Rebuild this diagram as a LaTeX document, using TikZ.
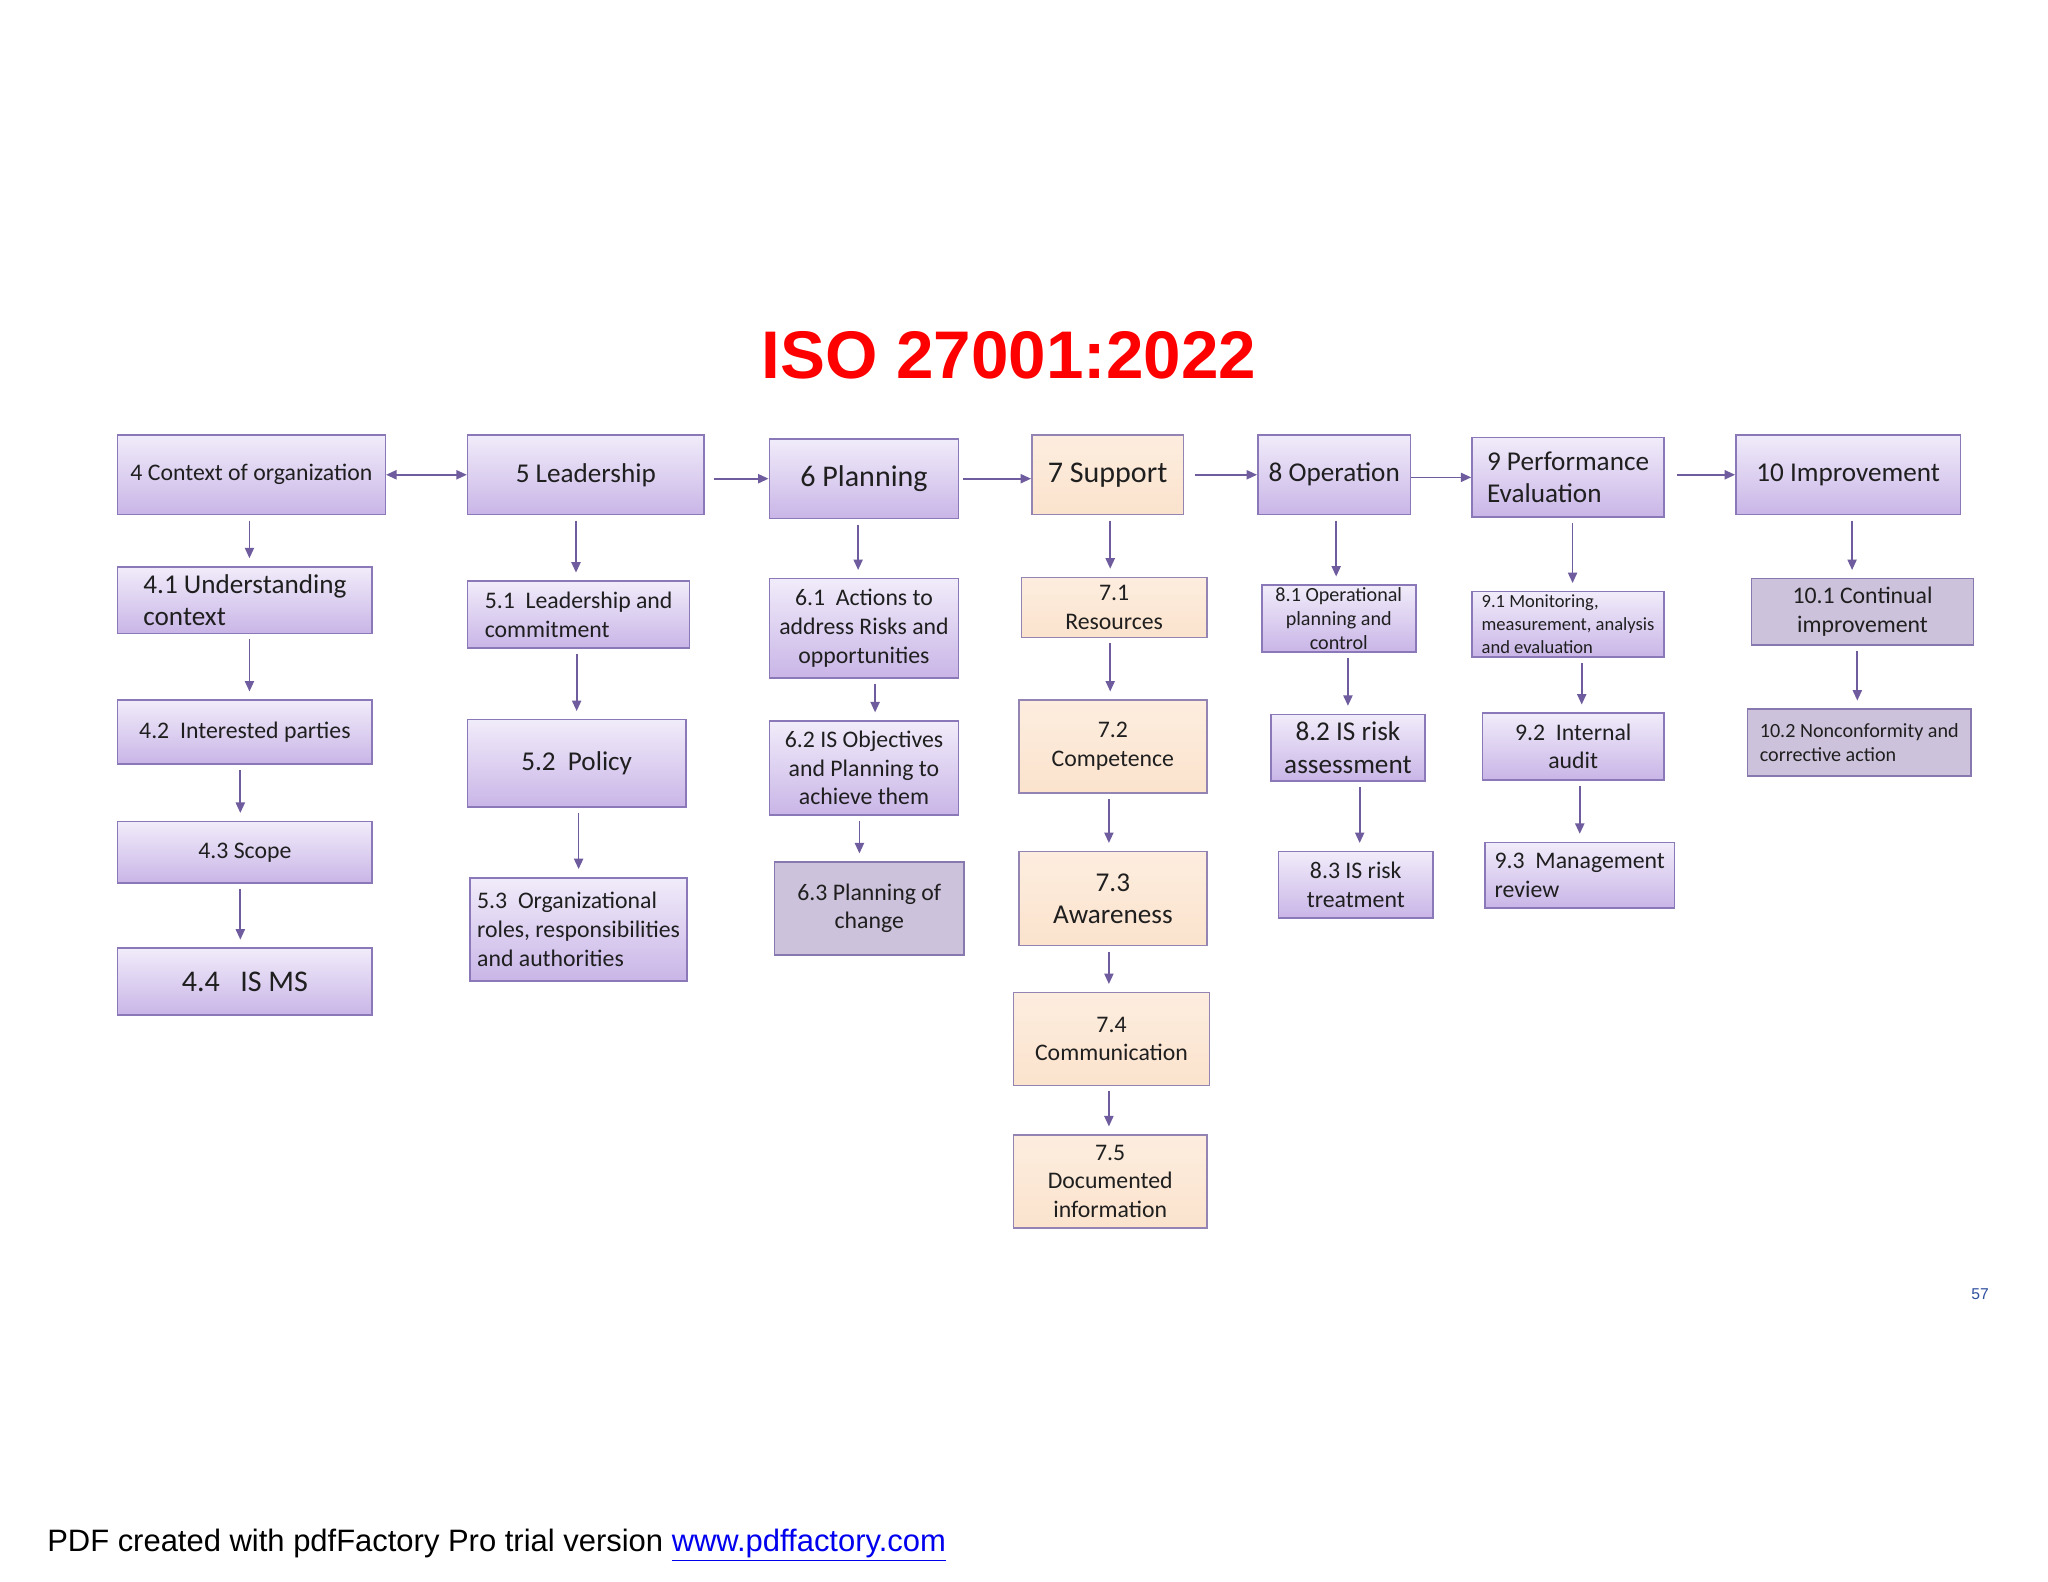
\documentclass[tikz,border=0pt]{standalone}
\usepackage{fontspec}
\setmainfont{Carlito}
\newfontfamily\arialfont{Liberation Sans}
\usetikzlibrary{arrows.meta}

\definecolor{lavtop}{HTML}{F1ECFA}
\definecolor{lavbot}{HTML}{C9B5E7}
\definecolor{lavline}{HTML}{8A78B8}
\definecolor{peachtop}{HTML}{FDEDDF}
\definecolor{peachbot}{HTML}{FBE3CD}
\definecolor{peachline}{HTML}{9484B4}
\definecolor{greyfill}{HTML}{CDC2DB}
\definecolor{greyline}{HTML}{8878B0}
\definecolor{arrowcol}{HTML}{6E5C9E}
\definecolor{titlered}{HTML}{FF0000}
\definecolor{pagenum}{HTML}{2E4E9E}
\definecolor{linkblue}{HTML}{0000EE}

\tikzstyle{lavbox} = [draw=lavline, line width=1.2pt, top color=lavtop, bottom color=lavbot, inner sep=0pt, align=center, text=black!88]
\tikzstyle{peachbox} = [draw=peachline, line width=1.2pt, top color=peachtop, bottom color=peachbot, inner sep=0pt, align=center, text=black!88]
\tikzstyle{greybox} = [draw=greyline, line width=1.2pt, fill=greyfill, inner sep=0pt, align=center, text=black!88]
\tikzstyle{fXL} = [font=\fontsize{23}{27}\selectfont]
\tikzstyle{fL} = [font=\fontsize{20.8}{25}\selectfont]
\tikzstyle{fM} = [font=\fontsize{18.2}{22}\selectfont]
\tikzstyle{fS} = [font=\fontsize{15.4}{18.5}\selectfont]
\tikzstyle{fXS} = [font=\fontsize{14.2}{17.5}\selectfont]
\tikzstyle{arrow} = [-{Triangle[length=8pt,width=7pt]}, line width=1.3pt, draw=arrowcol, shorten <=4pt, shorten >=6pt]
\tikzstyle{harrow} = [-{Triangle[length=8pt,width=7pt]}, line width=1.3pt, draw=arrowcol]

\begin{document}
\begin{tikzpicture}[x=1pt, y=-1pt]
  \useasboundingbox[fill=white] (0,0) rectangle (1568,1211.2);

  % title
  \node[anchor=base, font=\arialfont\bfseries\fontsize{51.6}{60}\selectfont, text=titlered, inner sep=0pt] (title) at (772.5,290) {ISO 27001:2022};

  % clause 4
  \node[lavbox, fM, minimum width=205pt, minimum height=61pt] (c4) at (192.5,363.5) {4 Context of organization};
  \node[lavbox, fL, align=left, minimum width=195pt, minimum height=51pt] (c41) at (187.5,459.5) {4.1 Understanding\\context};
  \node[lavbox, fM, minimum width=195pt, minimum height=49pt] (c42) at (187.5,560.5) {4.2\ \ Interested parties};
  \node[lavbox, fM, minimum width=195pt, minimum height=47pt] (c43) at (187.5,652.5) {4.3 Scope};
  \node[lavbox, fXL, minimum width=195pt, minimum height=51pt] (c44) at (187.5,751.5) {4.4\ \ \ IS MS};

  % clause 5
  \node[lavbox, fL, minimum width=181pt, minimum height=61pt] (c5) at (448.5,363.5) {5 Leadership};
  \node[lavbox, fM, align=left, minimum width=170pt, minimum height=51pt] (c51) at (443,470.5) {5.1\ \ Leadership and\\commitment};
  \node[lavbox, fL, minimum width=167pt, minimum height=67pt] (c52) at (441.5,584.5) {5.2\ \ Policy};
  \node[lavbox, fM, align=left, minimum width=166pt, minimum height=79pt] (c53) at (443,711.5) {5.3\ \ Organizational\\roles, responsibilities\\and authorities};

  % clause 6
  \node[lavbox, fXL, minimum width=145pt, minimum height=61pt] (c6) at (661.5,366.5) {6 Planning};
  \node[lavbox, fM, minimum width=145pt, minimum height=76pt] (c61) at (661.5,481) {6.1\ \ Actions to\\address Risks and\\opportunities};
  \node[lavbox, fM, minimum width=145pt, minimum height=72pt] (c62) at (661.5,588) {6.2 IS Objectives\\and Planning to\\achieve them};
  \node[greybox, fM, minimum width=145pt, minimum height=71pt] (c63) at (665.5,695.5) {6.3 Planning of\\change};

  % clause 7
  \node[peachbox, fXL, minimum width=116pt, minimum height=61pt] (c7) at (848,363.5) {7 Support};
  \node[peachbox, fM, minimum width=142pt, minimum height=46pt] (c71) at (853,465) {7.1\\Resources};
  \node[peachbox, fM, minimum width=144pt, minimum height=71pt] (c72) at (852,571.5) {7.2\\Competence};
  \node[peachbox, fL, minimum width=144pt, minimum height=72pt] (c73) at (852,688) {7.3\\Awareness};
  \node[peachbox, fM, minimum width=150pt, minimum height=71pt] (c74) at (851,795.5) {7.4\\Communication};
  \node[peachbox, fM, minimum width=148pt, minimum height=71pt] (c75) at (850,904.5) {7.5\\Documented\\information};

  % clause 8
  \node[lavbox, fL, minimum width=117pt, minimum height=61pt] (c8) at (1021.5,363.5) {8 Operation};
  \node[lavbox, fS, minimum width=118pt, minimum height=51pt] (c81) at (1025,473.5) {8.1 Operational\\planning and\\control};
  \node[lavbox, fL, minimum width=118pt, minimum height=51pt] (c82) at (1032,572.5) {8.2 IS risk\\assessment};
  \node[lavbox, fM, minimum width=118pt, minimum height=51pt] (c83) at (1038,677.5) {8.3 IS risk\\treatment};

  % clause 9
  \node[lavbox, fL, align=left, minimum width=147pt, minimum height=61pt] (c9) at (1200.5,365.5) {9 Performance\\Evaluation};
  \node[lavbox, fXS, align=left, minimum width=147pt, minimum height=50pt] (c91) at (1200.5,478) {9.1 Monitoring,\\measurement, analysis\\and evaluation};
  \node[lavbox, fM, minimum width=139pt, minimum height=51pt] (c92) at (1204.5,571.5) {9.2\ \ Internal\\audit};
  \node[lavbox, fM, align=left, minimum width=145pt, minimum height=50pt] (c93) at (1209.5,670) {9.3\ \ Management\\review};

  % clause 10
  \node[lavbox, fL, minimum width=172pt, minimum height=61pt] (c10) at (1415,363.5) {10 Improvement};
  \node[greybox, fM, minimum width=170pt, minimum height=51pt] (c101) at (1426,468.5) {10.1 Continual\\improvement};
  \node[greybox, fS, align=left, minimum width=171pt, minimum height=51pt] (c102) at (1423.5,568.5) {10.2 Nonconformity and\\corrective action};

  % links between clauses
  \draw[harrow, {Triangle[length=8pt,width=7pt]}-{Triangle[length=8pt,width=7pt]}] (c4.east) -- (c5.west);
  \draw[harrow, shorten <=7pt] (c5.east |- c6.west) -- (c6.west);
  \draw[harrow, shorten <=3pt] (c6.east) -- (c6.east -| c7.west);
  \draw[harrow, shorten <=8pt] (c7.east) -- (c8.west);
  \draw[harrow] (c9.west -| c8.east) -- (c9.west);
  \draw[harrow, shorten <=9pt] (c10.west -| c9.east) -- (c10.west);

  % links inside clauses
  \draw[arrow] ([xshift=3.5pt]c41.north |- c4.south) -- ([xshift=3.5pt]c41.north);
  \draw[arrow] ([xshift=3.5pt]c42.north |- c41.south) -- ([xshift=3.5pt]c42.north);
  \draw[arrow] ([xshift=-3.5pt]c43.north |- c42.south) -- ([xshift=-3.5pt]c43.north);
  \draw[arrow] ([xshift=-3.5pt]c44.north |- c43.south) -- ([xshift=-3.5pt]c44.north);

  \draw[arrow] ([xshift=-2pt]c51.north |- c5.south) -- ([xshift=-2pt]c51.north);
  \draw[arrow] (c52.north |- c51.south) -- (c52.north);
  \draw[arrow] (c53.north |- c52.south) -- (c53.north);

  \draw[arrow] ([xshift=-4.5pt]c61.north |- c6.south) -- ([xshift=-4.5pt]c61.north);
  \draw[arrow] ([xshift=8.5pt]c62.north |- c61.south) -- ([xshift=8.5pt]c62.north);
  \draw[arrow] ([xshift=-7.5pt]c63.north |- c62.south) -- ([xshift=-7.5pt]c63.north);

  \draw[arrow] ([xshift=-3pt]c71.north |- c7.south) -- ([xshift=-3pt]c71.north);
  \draw[arrow] ([xshift=-2pt]c72.north |- c71.south) -- ([xshift=-2pt]c72.north);
  \draw[arrow] ([xshift=-3pt]c73.north |- c72.south) -- ([xshift=-3pt]c73.north);
  \draw[arrow] ([xshift=-2pt]c74.north |- c73.south) -- ([xshift=-2pt]c74.north);
  \draw[arrow] ([xshift=-1pt]c75.north |- c74.south) -- ([xshift=-1pt]c75.north);

  \draw[arrow] ([xshift=-2pt]c81.north |- c8.south) -- ([xshift=-2pt]c81.north);
  \draw[arrow] (c82.north |- c81.south) -- (c82.north);
  \draw[arrow] ([xshift=3pt]c83.north |- c82.south) -- ([xshift=3pt]c83.north);

  \draw[arrow] ([xshift=3.5pt]c91.north |- c9.south) -- ([xshift=3.5pt]c91.north);
  \draw[arrow] ([xshift=6.5pt]c92.north |- c91.south) -- ([xshift=6.5pt]c92.north);
  \draw[arrow] (c93.north |- c92.south) -- (c93.north);

  \draw[arrow] ([xshift=-8pt]c101.north |- c10.south) -- ([xshift=-8pt]c101.north);
  \draw[arrow] ([xshift=-1.5pt]c102.north |- c101.south) -- ([xshift=-1.5pt]c102.north);

  % page number and footer
  \node[anchor=base, font=\arialfont\fontsize{12}{14}\selectfont, text=pagenum, inner sep=0pt] (page) at (1516,995) {57};
  \node[anchor=base west, font=\arialfont\fontsize{23.7}{28}\selectfont, inner sep=0pt] (footer) at (36,1188) {PDF created with pdfFactory Pro trial version \textcolor{linkblue}{\underline{www.pdffactory.com}}};
\end{tikzpicture}
\end{document}
